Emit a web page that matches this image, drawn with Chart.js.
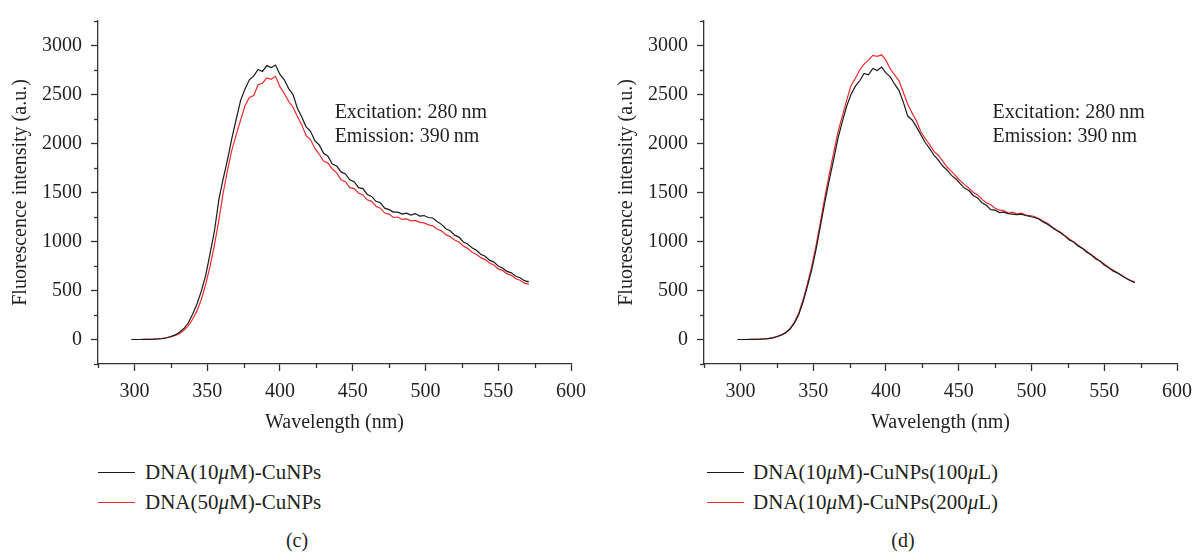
<!DOCTYPE html>
<html><head><meta charset="utf-8">
<script src="https://cdn.jsdelivr.net/npm/chart.js@4/dist/chart.umd.min.js"></script>
<style>
html,body{margin:0;padding:0;background:#fff;width:1194px;height:552px;overflow:hidden;font-family:"Liberation Serif",serif;color:#231f20}
#wrap{position:relative;width:1194px;height:552px;overflow:hidden}
canvas{position:absolute;top:0}
.leg{position:absolute;font-size:21px;line-height:24px;white-space:nowrap}
.leg .ln{position:absolute;width:37px;height:0;border-top:1.4px solid}
.cap{position:absolute;font-size:20px;transform:translateX(-50%);top:529px}
</style></head><body>
<div id="wrap">
<canvas id="c1" width="597" height="435" style="left:0"></canvas>
<canvas id="c2" width="597" height="435" style="left:606px"></canvas>

<div class="leg" style="left:98px;top:460px"><div class="ln" style="left:0;top:12px;border-color:#1a1a1a"></div><span style="position:absolute;left:47px;top:0">DNA(10<i>μ</i>M)-CuNPs</span></div>
<div class="leg" style="left:98px;top:490px"><div class="ln" style="left:0;top:12px;border-color:#ee2a2a"></div><span style="position:absolute;left:47px;top:0">DNA(50<i>μ</i>M)-CuNPs</span></div>
<div class="leg" style="left:707px;top:460px"><div class="ln" style="left:0;top:12px;border-color:#1a1a1a"></div><span style="position:absolute;left:46px;top:0">DNA(10<i>μ</i>M)-CuNPs(100<i>μ</i>L)</span></div>
<div class="leg" style="left:707px;top:490px"><div class="ln" style="left:0;top:12px;border-color:#ee2a2a"></div><span style="position:absolute;left:46px;top:0">DNA(10<i>μ</i>M)-CuNPs(200<i>μ</i>L)</span></div>
<div class="cap" style="left:297px">(c)</div>
<div class="cap" style="left:903px">(d)</div>
</div>

<script>
const wavelengths = [298,301,304,307,310,313,316,319,322,325,328,331,334,337,340,343,346,349,352,355,358,361,364,367,370,373,376,379,382,385,388,391,394,397,400,403,406,409,412,415,418,421,424,427,430,433,436,439,442,445,448,451,454,457,460,463,466,469,472,475,478,481,484,487,490,493,496,499,502,505,508,511,514,517,520,523,526,529,532,535,538,541,544,547,550,553,556,559,562,565,568,571];

const cBlack = [0,0,0,1,2,3,6,10,18,31,47,74,112,168,258,362,494,655,876,1105,1425,1640,1835,2055,2250,2440,2555,2650,2690,2755,2735,2795,2775,2800,2705,2650,2560,2500,2360,2270,2170,2125,2030,1985,1900,1870,1790,1770,1710,1690,1630,1610,1550,1540,1480,1460,1410,1395,1340,1325,1300,1300,1280,1290,1270,1285,1260,1265,1245,1240,1205,1175,1130,1110,1065,1045,995,975,935,910,870,850,810,790,750,730,695,680,645,630,600,588];
const cRed = [0,0,0,1,2,3,5,8,15,26,41,60,93,139,206,292,408,562,748,962,1212,1495,1728,1935,2090,2240,2385,2470,2490,2600,2615,2670,2655,2685,2580,2510,2430,2370,2275,2190,2080,2040,1950,1890,1820,1800,1740,1700,1630,1610,1550,1540,1495,1475,1425,1410,1360,1340,1290,1280,1245,1250,1225,1230,1210,1215,1195,1190,1170,1160,1125,1110,1070,1050,1015,995,955,930,890,870,835,815,780,760,720,705,670,655,620,605,575,565];
const dBlack = [0,0,0,1,2,3,5,9,16,28,44,66,104,165,250,380,540,710,920,1160,1400,1620,1830,2050,2220,2380,2500,2585,2640,2715,2700,2765,2745,2780,2720,2680,2605,2540,2420,2280,2240,2170,2090,2010,1950,1880,1830,1770,1730,1675,1640,1590,1545,1520,1470,1445,1395,1370,1325,1320,1295,1300,1285,1280,1275,1280,1265,1255,1245,1230,1200,1175,1145,1115,1090,1055,1015,995,955,930,890,865,825,800,760,735,700,680,650,625,600,580];
const dRed = [0,0,0,1,2,3,5,9,17,29,46,70,110,175,265,400,565,745,960,1200,1450,1680,1900,2110,2280,2440,2590,2665,2750,2810,2850,2900,2890,2905,2850,2760,2700,2640,2520,2400,2310,2230,2120,2050,1990,1920,1880,1820,1760,1715,1670,1620,1580,1545,1500,1475,1430,1395,1375,1340,1320,1315,1290,1300,1280,1290,1270,1265,1255,1235,1210,1185,1150,1120,1095,1060,1025,995,965,930,900,865,835,800,770,735,710,680,655,625,605,585];

const xTickLabels = [300,350,400,450,500,550,600];
const yTickLabels = [0,500,1000,1500,2000,2500,3000];
const annotationLines = ['Excitation: 280\u2009nm','Emission: 390\u2009nm'];

const FONT = '"Liberation Serif", serif';
const AX = '#333333';

function pts(arr){ return wavelengths.map((x,i)=>({x:x,y:arr[i]})); }

function minorTicksPlugin(){
  return {
    id:'minorTicks',
    afterDraw(chart){
      const {ctx, chartArea} = chart;
      const xs = chart.scales.x, ys = chart.scales.y;
      ctx.save();
      ctx.strokeStyle = AX; ctx.lineWidth = 1.3;
      xs.ticks.forEach(t=>{
        if (!xTickLabels.includes(t.value)) {
          const px = Math.round(xs.getPixelForValue(t.value))+0.5;
          ctx.beginPath(); ctx.moveTo(px, chartArea.bottom); ctx.lineTo(px, chartArea.bottom+4); ctx.stroke();
        }
      });
      ys.ticks.forEach(t=>{
        if (!yTickLabels.includes(t.value)) {
          const py = Math.round(ys.getPixelForValue(t.value))+0.5;
          ctx.beginPath(); ctx.moveTo(chartArea.left, py); ctx.lineTo(chartArea.left-4, py); ctx.stroke();
        }
      });
      ctx.restore();
    }
  };
}
function annotationPlugin(xVal, yVals){
  return {
    id:'annot',
    afterDatasetsDraw(chart){
      const {ctx} = chart; const xs = chart.scales.x, ys = chart.scales.y;
      ctx.save();
      ctx.fillStyle = '#231f20';
      ctx.font = '20px ' + FONT;
      ctx.textBaseline = 'middle'; ctx.textAlign = 'left';
      annotationLines.forEach((s,i)=>ctx.fillText(s, xs.getPixelForValue(xVal), ys.getPixelForValue(yVals[i])));
      ctx.restore();
    }
  };
}

function makeChart(id, s1, s2, rightPad, annX){
  return new Chart(document.getElementById(id), {
    type:'line',
    data:{datasets:[
      {data:pts(s1), borderColor:'#1a1a1a', borderWidth:1.2, pointRadius:0, tension:0, fill:false},
      {data:pts(s2), borderColor:'#ee2a2a', borderWidth:1.2, pointRadius:0, tension:0, fill:false}
    ]},
    options:{
      responsive:false, animation:false, devicePixelRatio:1,
      layout:{padding:{left:0, right:rightPad, top:14, bottom:0}},
      plugins:{legend:{display:false}, tooltip:{enabled:false}},
      scales:{
        x:{type:'linear', min:275, max:600,
          afterFit(s){ s.height = 71; },
          border:{display:true, color:AX, width:1.3},
          grid:{display:true, drawOnChartArea:false, drawTicks:true, tickLength:7,
            tickColor:(c)=> (c.tick && xTickLabels.includes(c.tick.value)) ? AX : 'rgba(0,0,0,0)', tickWidth:1.3},
          ticks:{stepSize:25, autoSkip:false, maxRotation:0, padding:9, color:'#231f20',
            font:{family:FONT, size:20},
            callback:(v)=> xTickLabels.includes(v) ? String(v) : ''},
          title:{display:true, text:'Wavelength (nm)', color:'#231f20', font:{family:FONT, size:20}, padding:{top:0,bottom:0}}
        },
        y:{type:'linear', min:-250, max:3250,
          afterFit(s){ s.width = 98; },
          border:{display:true, color:AX, width:1.3},
          grid:{display:true, drawOnChartArea:false, drawTicks:true, tickLength:7,
            tickColor:(c)=> (c.tick && yTickLabels.includes(c.tick.value)) ? AX : 'rgba(0,0,0,0)', tickWidth:1.3},
          ticks:{stepSize:250, autoSkip:false, padding:9, color:'#231f20',
            font:{family:FONT, size:20},
            callback:(v)=> yTickLabels.includes(v) ? String(v) : ''},
          title:{display:true, text:'Fluorescence intensity (a.u.)', color:'#231f20', font:{family:FONT, size:20}, padding:{top:9,bottom:0}}
        }
      }
    },
    plugins:[minorTicksPlugin(), annotationPlugin(annX, [2313, 2064])]
  });
}

makeChart('c1', cBlack, cRed, 26, 437.6);
makeChart('c2', dBlack, dRed, 26, 473.2);
</script>
</body></html>
